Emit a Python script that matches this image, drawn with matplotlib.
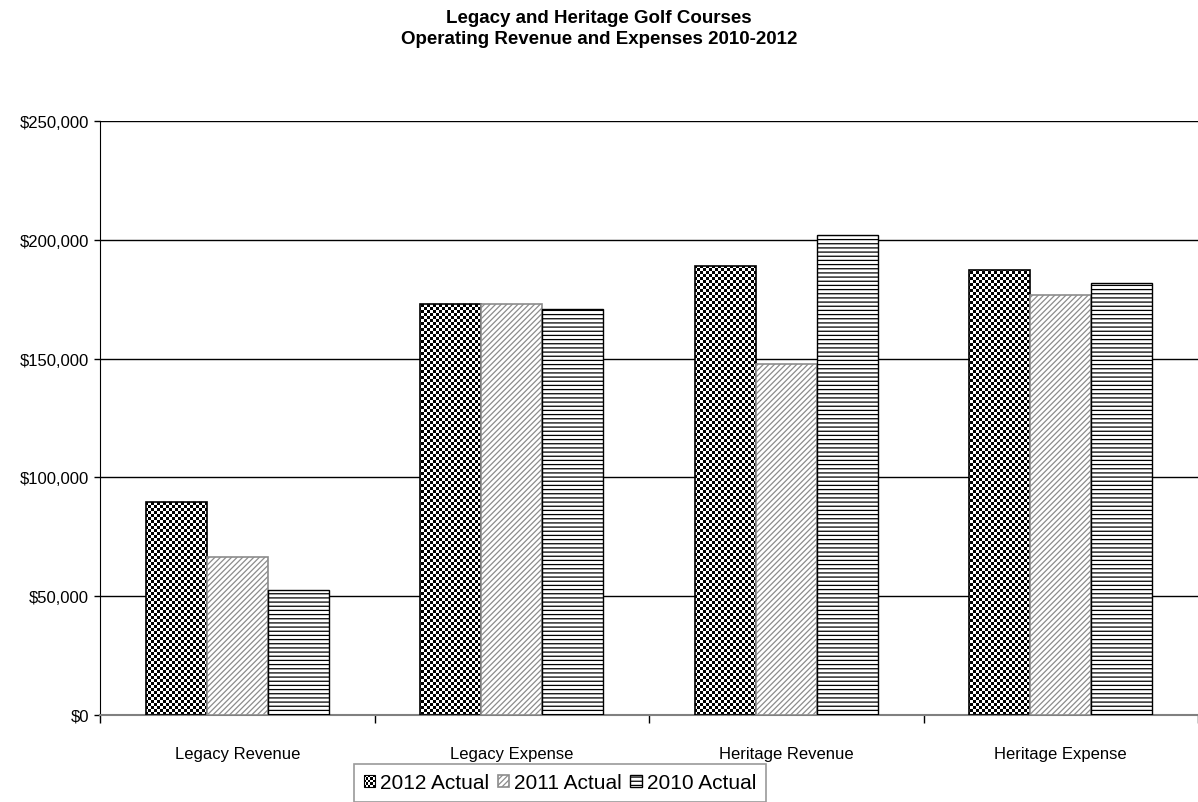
import numpy as np
import matplotlib
matplotlib.use("Agg")
import matplotlib.pyplot as plt
from matplotlib.patches import Rectangle
from matplotlib.path import Path
from matplotlib.legend_handler import HandlerBase
from matplotlib.ticker import FuncFormatter, FixedLocator

plt.rcParams['font.family'] = ['Liberation Sans', 'DejaVu Sans']
plt.rcParams['hatch.linewidth'] = 0.9

# operating figures, dollars
categories = ["Legacy Revenue", "Legacy Expense", "Heritage Revenue", "Heritage Expense"]
actual_2012 = [89500, 173100, 189100, 187400]
actual_2011 = [66400, 173100, 147900, 176900]
actual_2010 = [52500, 171000, 202100, 181900]
series_names = ["2012 Actual", "2011 Actual", "2010 Actual"]
y_ticks = [0, 50000, 100000, 150000, 200000, 250000]


class HandlerChecker(HandlerBase):
    # little checkerboard swatch for the legend
    def create_artists(self, legend, orig_handle, xdescent, ydescent,
                       width, height, fontsize, trans):
        n = 5
        cw = width / n
        ch = height / n
        arts = [Rectangle((-xdescent, -ydescent), width, height,
                          facecolor='white', edgecolor='none', transform=trans)]
        for i in range(n):
            for j in range(n):
                if (i + j) % 2 == 0:
                    arts.append(Rectangle((-xdescent + i * cw, -ydescent + j * ch), cw, ch,
                                          facecolor='black', edgecolor='none', transform=trans))
        arts.append(Rectangle((-xdescent, -ydescent), width, height,
                              facecolor='none', edgecolor='black', lw=0.8, transform=trans))
        return arts


fig = plt.figure(figsize=(11.98, 8.03), dpi=100)
ax = fig.add_axes([100 / 1198, 87 / 803, 1098 / 1198, 594 / 803])

x = np.arange(len(categories))
w = 0.222

b12 = ax.bar(x - w, actual_2012, w, facecolor='none', edgecolor='black', lw=1.2, zorder=3)
b11 = ax.bar(x, actual_2011, w, facecolor='white', edgecolor='#8c8c8c', hatch='//////', lw=1.2, zorder=3)
b10 = ax.bar(x + w, actual_2010, w, facecolor='white', edgecolor='black', hatch='----', lw=1.0, zorder=3)

ax.set_xlim(-0.5, len(categories) - 0.5)
ax.set_ylim(0, 250000)

# checkerboard fill for the 2012 bars, clipped to the bar outlines
bb = ax.get_window_extent()
cell = 3.0
nr = int(round(bb.height / cell))
nc = int(round(bb.width / cell))
checker = (np.indices((nr, nc)).sum(axis=0) % 2).astype(float)
img = ax.imshow(checker, cmap='gray', interpolation='nearest', aspect='auto',
                extent=(-0.5, len(categories) - 0.5, 0, 250000), zorder=2.5)
clip = Path.make_compound_path(*[p.get_path().transformed(p.get_patch_transform())
                                 for p in b12.patches])
img.set_clip_path(clip, ax.transData)

ax.set_yticks(y_ticks)
ax.yaxis.set_major_formatter(FuncFormatter(lambda v, pos: "${:,.0f}".format(v)))
ax.set_xticks(x)
ax.set_xticklabels(categories)
ax.xaxis.set_minor_locator(FixedLocator(np.arange(-0.5, len(categories), 1.0)))
ax.tick_params(axis='x', which='major', length=0, pad=22, labelsize=12)
ax.tick_params(axis='x', which='minor', length=6, width=1, color='black', direction='out')
ax.tick_params(axis='y', length=4, width=1, direction='out', labelsize=12, pad=4)

ax.yaxis.grid(True, color='black', lw=1, zorder=0)
ax.set_axisbelow(True)
for s in ['top', 'right']:
    ax.spines[s].set_visible(False)
ax.spines['left'].set_color('black')
ax.spines['bottom'].set_color('#808080')
ax.spines['bottom'].set_linewidth(1.5)

fig.text(0.5, 1 - 29 / 803,
         "Legacy and Heritage Golf Courses\nOperating Revenue and Expenses 2010-2012",
         ha='center', va='center', fontsize=13.5, fontweight='bold', linespacing=1.3)

leg = fig.legend([b12.patches[0], b11.patches[0], b10.patches[0]], series_names,
                 loc='upper center', bbox_to_anchor=(560 / 1198, 1 - 765 / 803),
                 ncol=3, fontsize=15, frameon=True, fancybox=False,
                 edgecolor='#808080', handlelength=0.55, handleheight=0.55,
                 handletextpad=0.25, columnspacing=0.4, borderpad=0.45,
                 borderaxespad=0,
                 handler_map={b12.patches[0]: HandlerChecker()})
leg.get_frame().set_linewidth(1.2)

fig.savefig("out.png", dpi=100)
